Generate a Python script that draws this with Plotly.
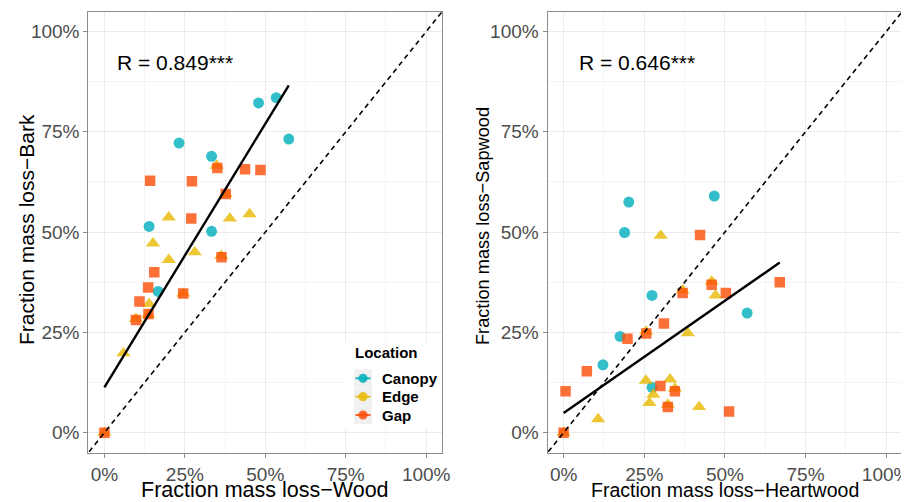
import plotly.graph_objects as go

# ---------------- data ----------------
locations = ["Canopy", "Edge", "Gap"]

# Left panel: Wood (x) vs Bark (y)
wood_canopy = [0.479, 0.534, 0.573, 0.232, 0.333, 0.139, 0.333, 0.167]
bark_canopy = [0.822, 0.835, 0.732, 0.722, 0.689, 0.514, 0.502, 0.352]
wood_edge = [0.349, 0.200, 0.390, 0.451, 0.151, 0.200, 0.281, 0.363, 0.377, 0.139, 0.098, 0.136, 0.059, 0.000, 0.245]
bark_edge = [0.666, 0.537, 0.534, 0.545, 0.472, 0.431, 0.450, 0.441, 0.595, 0.321, 0.284, 0.294, 0.198, 0.000, 0.347]
wood_gap = [0.351, 0.437, 0.485, 0.142, 0.272, 0.377, 0.270, 0.364, 0.155, 0.136, 0.109, 0.137, 0.098, 0.245, 0.000]
bark_gap = [0.660, 0.657, 0.655, 0.628, 0.627, 0.595, 0.534, 0.437, 0.400, 0.362, 0.327, 0.296, 0.281, 0.347, 0.000]

# Right panel: Heartwood (x) vs Sapwood (y)
heart_canopy = [0.202, 0.467, 0.189, 0.274, 0.569, 0.175, 0.122, 0.274]
sap_canopy = [0.575, 0.590, 0.499, 0.342, 0.298, 0.240, 0.169, 0.113]
heart_edge = [0.301, 0.369, 0.459, 0.471, 0.256, 0.385, 0.255, 0.330, 0.345, 0.278, 0.266, 0.323, 0.420, 0.107, 0.000]
sap_edge = [0.491, 0.355, 0.377, 0.342, 0.252, 0.248, 0.130, 0.133, 0.110, 0.095, 0.074, 0.070, 0.064, 0.034, 0.000]
heart_gap = [0.423, 0.369, 0.459, 0.503, 0.670, 0.311, 0.198, 0.256, 0.072, 0.006, 0.300, 0.345, 0.323, 0.513, 0.000]
sap_gap = [0.493, 0.348, 0.369, 0.348, 0.375, 0.272, 0.234, 0.247, 0.153, 0.103, 0.116, 0.103, 0.064, 0.053, 0.000]

# Linear fits (end points)
fit_left_x = [0.0, 0.573]
fit_left_y = [0.113, 0.866]
fit_right_x = [0.0, 0.670]
fit_right_y = [0.049, 0.424]

# 1:1 reference line
one_to_one = [-0.1, 1.1]

r_labels = ["R = 0.849***", "R = 0.646***"]
axis_titles = ["Fraction mass loss\u2212Wood", "Fraction mass loss\u2212Bark",
               "Fraction mass loss\u2212Heartwood", "Fraction mass loss\u2212Sapwood"]
legend_title = "Location"
tick_vals = [0, 0.25, 0.5, 0.75, 1.0]
tick_text = ["0%", "25%", "50%", "75%", "100%"]

# ---------------- styling ----------------
colors = {"Canopy": "#00AFBB", "Edge": "#E7B800", "Gap": "#FC4E07"}
symbols = {"Canopy": "circle", "Edge": "triangle-up", "Gap": "square"}
sizes = {"Canopy": 11, "Edge": 12.5, "Gap": 10.5}
FONT = "Liberation Sans, Arial, sans-serif"

# The page body keeps the browser's default 8px margin, so the figure is
# drawn 8px smaller and every window-pixel position is shifted by 8px.
OFF = 8
W, H = 909 - OFF, 502 - OFF


def px_x(p):
    return (p - OFF) / W


def px_y(p):
    return 1 - (p - OFF) / H


fig = go.Figure()

panels = [
    ("x", "y", {"Canopy": (wood_canopy, bark_canopy), "Edge": (wood_edge, bark_edge), "Gap": (wood_gap, bark_gap)},
     fit_left_x, fit_left_y),
    ("x2", "y2", {"Canopy": (heart_canopy, sap_canopy), "Edge": (heart_edge, sap_edge), "Gap": (heart_gap, sap_gap)},
     fit_right_x, fit_right_y),
]

for xa, ya, groups, fx, fy in panels:
    for loc in locations:
        xs, ys = groups[loc]
        fig.add_trace(go.Scatter(
            x=xs, y=ys, xaxis=xa, yaxis=ya, mode="markers", name=loc,
            showlegend=False,
            marker=dict(color=colors[loc], symbol=symbols[loc], size=sizes[loc], opacity=0.8, line=dict(width=0)),
            hoverinfo="skip"))
    fig.add_trace(go.Scatter(x=one_to_one, y=one_to_one, xaxis=xa, yaxis=ya, mode="lines", showlegend=False,
                             line=dict(color="black", width=1.6, dash="5px,4px"), hoverinfo="skip"))
    fig.add_trace(go.Scatter(x=fx, y=fy, xaxis=xa, yaxis=ya, mode="lines", showlegend=False,
                             line=dict(color="black", width=2.4), hoverinfo="skip"))

ydom = [px_y(452.7), px_y(11.5)]
axis_common = dict(
    range=[-0.05, 1.05], tickvals=tick_vals, ticktext=tick_text, automargin=False,
    showgrid=True, gridcolor="#EBEBEB", gridwidth=1,
    minor=dict(dtick=0.125, tick0=0.125, showgrid=True, gridcolor="#F4F4F4", gridwidth=0.6, ticks=""),
    zeroline=False, showline=True, mirror=True, linecolor="#8C8C8C", linewidth=1,
    ticks="outside", ticklen=4, tickcolor="#8C8C8C", tickwidth=1,
    tickfont=dict(family=FONT, size=19, color="#4D4D4D"),
    ticklabeloverflow="allow",
)

annotations = [
    dict(text=r_labels[0], xref="x", yref="y", x=0.033, y=0.923, xanchor="left", yanchor="middle",
         showarrow=False, font=dict(size=21, color="black", family=FONT)),
    dict(text=r_labels[1], xref="x2", yref="y2", x=0.040, y=0.923, xanchor="left", yanchor="middle",
         showarrow=False, font=dict(size=21, color="black", family=FONT)),
    # axis titles
    dict(text=axis_titles[0], xref="paper", yref="paper", x=px_x(265.3), y=px_y(490), xanchor="center",
         yanchor="middle", showarrow=False, font=dict(size=21.5, color="black", family=FONT)),
    dict(text=axis_titles[1], xref="paper", yref="paper", x=px_x(26), y=px_y(230), xanchor="center",
         yanchor="middle", textangle=-90, showarrow=False, font=dict(size=21, color="black", family=FONT)),
    dict(text=axis_titles[2], xref="paper", yref="paper", x=px_x(725), y=px_y(489.5), xanchor="center",
         yanchor="middle", showarrow=False, font=dict(size=19.5, color="black", family=FONT)),
    dict(text=axis_titles[3], xref="paper", yref="paper", x=px_x(483), y=px_y(226), xanchor="center",
         yanchor="middle", textangle=-90, showarrow=False, font=dict(size=18.2, color="black", family=FONT)),
    # legend title
    dict(text="<b>" + legend_title + "</b>", xref="paper", yref="paper", x=px_x(353), y=px_y(352.7),
         xanchor="left", yanchor="middle", showarrow=False, font=dict(size=15, color="black", family=FONT)),
]

shapes = [
    # legend background
    dict(type="rect", xref="paper", yref="paper", x0=px_x(343), x1=px_x(441), y0=px_y(428), y1=px_y(342),
         fillcolor="white", line=dict(width=0), layer="above"),
]

legend_centers = [378.3, 396.7, 415.0]
for loc, cy in zip(locations, legend_centers):
    shapes.append(dict(type="rect", xref="paper", yref="paper", x0=px_x(354), x1=px_x(372),
                       y0=px_y(cy + 9), y1=px_y(cy - 9), fillcolor="#F0F0F0", line=dict(width=0), layer="above"))
    shapes.append(dict(type="line", xref="paper", yref="paper", x0=px_x(355.5), x1=px_x(370.5),
                       y0=px_y(cy), y1=px_y(cy), line=dict(color=colors[loc], width=2), opacity=0.85, layer="above"))
    shapes.append(dict(type="circle", xref="paper", yref="paper", x0=px_x(363 - 4.6), x1=px_x(363 + 4.6),
                       y0=px_y(cy + 4.6), y1=px_y(cy - 4.6), fillcolor=colors[loc], line=dict(width=0),
                       opacity=0.85, layer="above"))
    annotations.append(dict(text="<b>" + loc + "</b>", xref="paper", yref="paper", x=px_x(379.5), y=px_y(cy),
                            xanchor="left", yanchor="middle", showarrow=False,
                            font=dict(size=15, color="black", family=FONT)))

fig.update_layout(
    width=W, height=H, margin=dict(l=0, r=0, t=0, b=0, autoexpand=False),
    paper_bgcolor="white", plot_bgcolor="white",
    font=dict(family=FONT, color="black"),
    showlegend=False,
    xaxis=dict(domain=[px_x(88.3), px_x(442.3)], anchor="y", **axis_common),
    yaxis=dict(domain=ydom, anchor="x", **axis_common),
    xaxis2=dict(domain=[px_x(547.5), px_x(902.3)], anchor="y2", **axis_common),
    yaxis2=dict(domain=ydom, anchor="x2", **axis_common),
    annotations=annotations,
    shapes=shapes,
)

fig.write_html("out.html")
